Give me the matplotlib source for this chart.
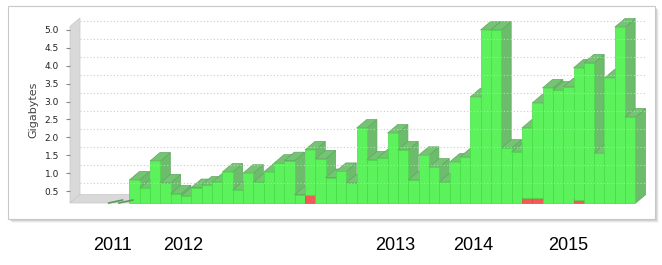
import matplotlib
matplotlib.use("Agg")
import matplotlib.pyplot as plt
from matplotlib.patches import Polygon, Rectangle
from matplotlib.lines import Line2D
from matplotlib.transforms import IdentityTransform

# monthly transfer in GB (stacked: failed at the bottom)
total_gb = [0, 0, 0, 0.03, 0.03, 0.81, 0.58, 1.34, 0.73, 0.42,
            0.36, 0.60, 0.67, 0.75, 1.03, 0.53, 1.00, 0.75, 1.03, 1.28,
            1.35, 0.40, 1.65, 1.40, 0.88, 1.05, 0.73, 2.26, 1.37, 1.42,
            2.12, 1.65, 0.81, 1.50, 1.17, 0.75, 1.31, 1.45, 3.13, 5.00,
            5.00, 1.70, 1.59, 2.26, 2.96, 3.38, 3.32, 3.41, 3.94, 4.08,
            1.56, 3.66, 5.08, 2.57]
failed_gb = [0] * 54
failed_gb[22] = 0.39
failed_gb[43] = 0.31
failed_gb[44] = 0.31
failed_gb[48] = 0.25

y_ticks = [0.5, 1.0, 1.5, 2.0, 2.5, 3.0, 3.5, 4.0, 4.5, 5.0]
years = ["2011", "2012", "2013", "2014", "2015"]

W, H = 662, 265
DX, DY = 10, 8.5          # 3d depth offset in pixels
FLOOR, TOP = 0.168, 5.1

fig = plt.figure(figsize=(W / 100, H / 100), dpi=100)
fig.patch.set_facecolor("white")

# chart frame with a little shadow
for k, a in [(4, 0.08), (3, 0.12), (2, 0.2)]:
    fig.add_artist(Rectangle((8 + k, H - 219 - k), 647, 213, transform=IdentityTransform(),
                             fc="#808080", ec="none", alpha=a, zorder=-3))
fig.add_artist(Rectangle((8, H - 219), 647, 213, transform=IdentityTransform(),
                         fc="white", ec="#c8c8c8", lw=0.8, zorder=-2))

ax = fig.add_axes([70 / W, 62 / H, 566 / W, (203 - 26.4) / H])
ax.set_xlim(-0.745, len(total_gb) + 0.05)
ax.set_ylim(FLOOR, TOP)
ax.patch.set_visible(False)
for s in ax.spines.values():
    s.set_visible(False)
ax.set_xticks([])
ax.set_yticks(y_ticks)
ax.set_yticklabels([f"{v:.1f}" for v in y_ticks])
ax.tick_params(axis="y", length=3, pad=5, labelsize=6.5, colors="#888888", labelcolor="#222222")

x0, x1 = ax.get_xlim()


def proj(x, y, d=0.0):
    px, py = ax.transData.transform((x, y))
    return (px + d * DX, py + d * DY)


def face(pts, fc, ec, lw=0.5):
    ax.add_artist(Polygon(pts, closed=True, transform=IdentityTransform(),
                          fc=fc, ec=ec, lw=lw, clip_on=False))


# left wall and floor
face([proj(x0, FLOOR), proj(x0, TOP), proj(x0, TOP, 1), proj(x0, FLOOR, 1)], "#d9d9d9", "#c8c8c8")
face([proj(x0, FLOOR), proj(x1, FLOOR), proj(x1, FLOOR, 1), proj(x0, FLOOR, 1)], "#d9d9d9", "#c8c8c8")

# grid lines on the back wall
for v in y_ticks:
    (ax0, ay0), (ax1, ay1) = proj(x0, v, 1), proj(x1, v, 1)
    ax.add_artist(Line2D([ax0, ax1], [ay0, ay1], transform=IdentityTransform(),
                         color="#cccccc", lw=0.8, ls=(0, (1, 2)), clip_on=False))

green = ("#5cf25c", "#6cbc6c", "#74c474", "#48dc48")
red = ("#f25a5a", "#c46f6f", "#cf7c7c", "#e04848")

for i, (tot, bad) in enumerate(zip(total_gb, failed_gb)):
    if tot <= 0:
        continue
    if tot <= FLOOR:
        (lx0, ly0), (lx1, ly1) = proj(i, FLOOR), proj(i + 1, FLOOR, 0.35)
        ax.add_artist(Line2D([lx0, lx1], [ly0, ly1], transform=IdentityTransform(),
                             color="#5a9a5a", lw=1.2, clip_on=False))
        continue
    segs = []
    base = FLOOR
    if bad > 0:
        segs.append((FLOOR, bad, red))
        base = bad
    segs.append((base, tot, green))
    for b, t, (fc, sc, tc, ec) in segs:
        face([proj(i + 1, b), proj(i + 1, t), proj(i + 1, t, 1), proj(i + 1, b, 1)], sc, "#60a860")
        face([proj(i, t), proj(i + 1, t), proj(i + 1, t, 1), proj(i, t, 1)], tc, "#60a860")
        face([proj(i, b), proj(i + 1, b), proj(i + 1, t), proj(i, t)], fc, ec)

fig.text(33 / W, 1 - 110 / H, "Gigabytes", rotation=90, ha="center", va="center",
         fontsize=8, color="#444444")

# year labels under the chart
for name, px in zip(years, [113, 183, 395, 473, 568]):
    fig.text(px / W, 1 - 246 / H, name, ha="center", va="center",
             fontsize=13, family="Liberation Sans", color="black")

fig.savefig("out.png", dpi=100)
